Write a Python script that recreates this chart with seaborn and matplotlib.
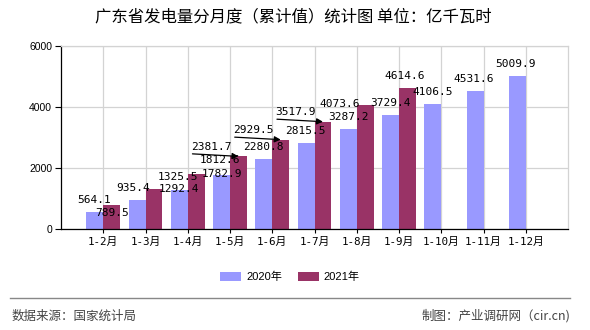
import matplotlib
matplotlib.use("Agg")
import matplotlib.pyplot as plt
import seaborn as sns
import pandas as pd
from matplotlib.patches import Patch
from matplotlib.lines import Line2D

# ---------------- data ----------------
months = ["1-2月", "1-3月", "1-4月", "1-5月", "1-6月", "1-7月",
          "1-8月", "1-9月", "1-10月", "1-11月", "1-12月"]
years = ["2020年", "2021年"]
values_2020 = [564.1, 935.4, 1292.4, 1782.9, 2280.8, 2815.5,
               3287.2, 3729.4, 4106.5, 4531.6, 5009.9]
values_2021 = [789.5, 1325.5, 1812.6, 2381.7, 2929.5, 3517.9,
               4073.6, 4614.6]
y_ticks = [0, 2000, 4000, 6000]

title = "广东省发电量分月度（累计值）统计图 单位：亿千瓦时"
source_text = "数据来源：国家统计局"
maker_text = "制图：产业调研网（cir.cn)"

colors = {"2020年": "#9999FF", "2021年": "#993366"}

# label placement (pixel offsets of label centre from bar top centre)
offs_2020 = [(-1, 12), (-4, 12), (0, 1), (0, 1), (0, 12), (-1, 12),
             (0, 12), (0, 12), (0, 12), (-1, 12), (-2, 12)]
offs_2021 = [(0, -8), (24, 12), (24, 14), (-27, 9.5), (-27, 10),
             (-27, 10), (-26, 1), (-3, 12)]
arrow_2021 = [False, False, False, True, True, True, False, False]

rows = [(m, years[0], v) for m, v in zip(months, values_2020)]
rows += [(m, years[1], v) for m, v in zip(months, values_2021)]
df = pd.DataFrame(rows, columns=["月份", "年份", "值"])

# ---------------- figure ----------------
plt.rcParams["font.family"] = ["DejaVu Sans", "Noto Sans CJK SC"]
fig = plt.figure(figsize=(5.9, 3.3), dpi=100)
ax = fig.add_axes([61 / 590, 101 / 330, 507 / 590, 183 / 330])

sns.barplot(data=df, x="月份", y="值", hue="年份", order=months,
            hue_order=years, palette=colors, saturation=1, width=0.8,
            linewidth=0, ax=ax, legend=False, errorbar=None, zorder=2)

ax.set_xlim(-1, 11)
ax.set_ylim(0, 6000)
ax.set_yticks(y_ticks)
ax.set_yticklabels([str(t) for t in y_ticks], fontsize=7.5,
                   family="Liberation Sans")
ax.set_xticks(range(len(months)))
ax.set_xticklabels(months, fontsize=7.8,
                   family=["DejaVu Sans Mono", "Noto Sans CJK SC"])
ax.set_xlabel("")
ax.set_ylabel("")
ax.tick_params(axis="y", length=4.3, width=0.8, pad=2, colors="black")
ax.tick_params(axis="x", length=3, width=0.8, pad=2.5, colors="black")

ax.grid(True, color="#d3d3d3", linewidth=0.9, zorder=0)
ax.set_axisbelow(True)
for side in ("top", "right"):
    ax.spines[side].set_color("#d3d3d3")
    ax.spines[side].set_linewidth(0.9)
for side in ("left", "bottom"):
    ax.spines[side].set_color("black")
    ax.spines[side].set_linewidth(0.9)

# ---------------- labels ----------------
label_font = dict(fontsize=8, family="DejaVu Sans Mono", color="black",
                  ha="center", va="center", zorder=5)

cont20, cont21 = ax.containers[0], ax.containers[1]
for bar, v, (dx, dy) in zip(cont20, values_2020, offs_2020):
    x = bar.get_x() + bar.get_width() / 2
    ax.annotate(f"{v:.1f}", xy=(x, bar.get_height()), xytext=(dx, dy),
                textcoords="offset pixels", **label_font)

bars21 = [b for b in cont21 if b.get_height() == b.get_height() and b.get_height() > 0]
for bar, v, (dx, dy), arr in zip(bars21, values_2021, offs_2021, arrow_2021):
    x = bar.get_x() + bar.get_width() / 2
    ax.annotate(f"{v:.1f}", xy=(x, bar.get_height()), xytext=(dx, dy),
                textcoords="offset pixels", **label_font)
    if arr:
        ax.annotate("", xy=(x, bar.get_height()), xytext=(-46, 2.5),
                    textcoords="offset pixels",
                    arrowprops=dict(arrowstyle="-|>", color="black", lw=0.9,
                                    shrinkA=0, shrinkB=0, mutation_scale=9),
                    zorder=5)

# ---------------- title / legend / footer ----------------
fig.text(293 / 590, 1 - 17 / 330, title, ha="center", va="center",
         fontsize=11.8, family="Noto Sans CJK SC", color="black")

handles = [Patch(facecolor=colors[y], edgecolor="none", label=y) for y in years]
fig.legend(handles=handles, loc="center", bbox_to_anchor=(290 / 590, 1 - 277 / 330),
           ncol=2, frameon=False, handlelength=1.9, handleheight=0.8,
           handletextpad=0.45, columnspacing=1.4,
           prop=dict(family=["Liberation Sans", "Noto Sans CJK SC"], size=8))

fig.add_artist(Line2D([10 / 590, 570 / 590], [1 - 298 / 330, 1 - 298 / 330],
                      color="#888888", linewidth=1.0))
fig.text(12 / 590, 1 - 316 / 330, source_text, ha="left", va="center",
         fontsize=9, family="Noto Sans CJK SC", color="#444444")
fig.text(570 / 590, 1 - 316 / 330, maker_text, ha="right", va="center",
         fontsize=9, family=["Noto Sans CJK SC", "DejaVu Sans"], color="#444444")

fig.savefig("out.png", dpi=100)
